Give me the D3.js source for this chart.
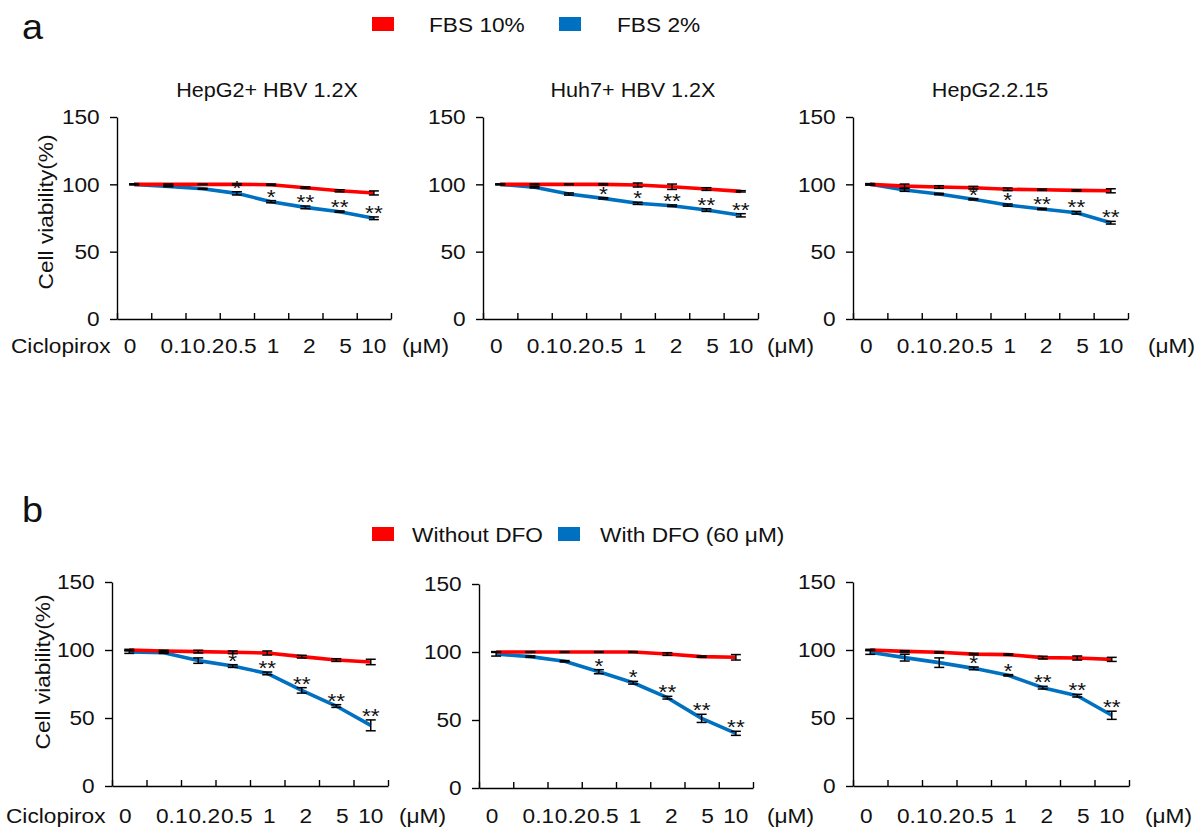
<!DOCTYPE html>
<html>
<head>
<meta charset="utf-8">
<script src="https://cdn.jsdelivr.net/npm/d3@7"></script>
<style>
  body { margin: 0; background: #fff; }
  svg { display: block; font-family: "Liberation Sans", Arial, sans-serif; }
</style>
</head>
<body>
<svg id="fig" width="1204" height="832"></svg>
<script>
// Ciclopirox doses (µM) on the x axis
const doses = ['0', '0.1', '0.2', '0.5', '1', '2', '5', '10'];
const yTicks = [0, 50, 100, 150];

// --- panel a: serum concentration ---
const legendA = ['FBS 10%', 'FBS 2%'];
const titlesA = ['HepG2+ HBV 1.2X', 'Huh7+ HBV 1.2X', 'HepG2.2.15'];

const a1Fbs10   = [100, 100, 100, 100, 99.7, 97.5, 95.2, 93.6];
const a1Fbs10Sd = [0.3, 0.2, 0.2, 0.5, 0.5, 0.6, 0.8, 1.5];
const a1Fbs2    = [100, 98.5, 96.7, 93.3, 87.1, 82.9, 79.7, 74.8];
const a1Fbs2Sd  = [0.3, 0.3, 0.3, 1.2, 0.8, 1, 0.5, 1];
const a1Stars   = ['', '', '', '*', '*', '**', '**', '**'];

const a2Fbs10   = [100, 100, 100, 100, 99.5, 98.2, 96.5, 94.8];
const a2Fbs10Sd = [0.3, 0.3, 0.3, 0.5, 1.5, 2, 1, 0.5];
const a2Fbs2    = [100, 97.8, 92.8, 89.6, 85.9, 84.1, 80.9, 77];
const a2Fbs2Sd  = [0.3, 0.5, 0.8, 0.5, 0.8, 0.6, 1, 1.2];
const a2Stars   = ['', '', '', '*', '*', '**', '**', '**'];

const a3Fbs10   = [100, 98.7, 98, 97.5, 96.3, 96, 95.5, 95.2];
const a3Fbs10Sd = [0.5, 1.5, 1, 1, 1, 0.5, 0.5, 1.5];
const a3Fbs2    = [100, 95.8, 92.8, 88.9, 84.6, 81.7, 78.9, 71.5];
const a3Fbs2Sd  = [0.5, 1, 0.5, 0.5, 0.8, 0.5, 1, 1];
const a3Stars   = ['', '', '', '*', '*', '**', '**', '**'];

// --- panel b: iron chelator DFO ---
const legendB = ['Without DFO', 'With DFO (60 \u03bcM)'];

const b1NoDfo   = [100, 99.3, 98.8, 98.3, 97.8, 95.1, 92.6, 91.2];
const b1NoDfoSd = [0.5, 0.5, 1, 1, 1.5, 1, 1, 2];
const b1Dfo     = [98.5, 98, 92.2, 88.2, 82.8, 70.3, 58.8, 44.6];
const b1DfoSd   = [1, 0.5, 2, 1, 1, 2, 1, 4];
const b1Stars   = ['', '', '', '*', '**', '**', '**', '**'];

const b2NoDfo   = [100, 100, 100, 100, 100, 98.5, 96.6, 96.1];
const b2NoDfoSd = [0.3, 0.3, 0.3, 0.3, 0.3, 1, 0.5, 2];
const b2Dfo     = [98.5, 96.6, 93.2, 85.5, 77.4, 66.4, 51.2, 40.2];
const b2DfoSd   = [1.5, 0.5, 0.5, 1.5, 1, 1, 3, 1.5];
const b2Stars   = ['', '', '', '*', '*', '**', '**', '**'];

const b3NoDfo   = [100, 99, 98.3, 97, 96.6, 94.4, 94.1, 93.1];
const b3NoDfoSd = [0.5, 0.5, 0.5, 0.5, 0.5, 1, 1.5, 1.5];
const b3Dfo     = [98.3, 94.4, 90.7, 86.5, 81.4, 72.3, 66.4, 52];
const b3DfoSd   = [1.5, 2.5, 3.5, 1, 0.5, 1, 1, 3];
const b3Stars   = ['', '', '', '*', '*', '**', '**', '**'];

const RED = '#ff0000';
const BLUE = '#0070c0';
const SX = 1.08;      // the figure's lettering is a bit wider than plain Arial
const FS = 21;
// the original dose row is typeset as a spaced string, not centred per category
const doseNudge = [-4, 8, 6, 4, 2, 4, 6, 0];

const svg = d3.select('#fig');
svg.append('rect').attr('width', 1204).attr('height', 832).attr('fill', '#fff');

function label(x, y, s, opt = {}) {
    const rot = opt.rotate ? ` rotate(${opt.rotate})` : '';
    return svg.append('text')
        .attr('transform', `translate(${x},${y})${rot} scale(${SX},1)`)
        .attr('text-anchor', opt.anchor || 'start')
        .attr('font-size', opt.size || FS)
        .attr('fill', '#111')
        .text(s);
}

function legend(names, y, items) {
    items.forEach((it, i) => {
        svg.append('rect')
            .attr('x', it.box).attr('y', y - 15)
            .attr('width', 22).attr('height', 14)
            .attr('fill', i === 0 ? RED : BLUE);
        label(it.text, y, names[i]);
    });
}

function drawPanel(p) {
    const x = d3.scaleBand().domain(doses).range([p.left, p.right]);
    const cx = d => x(d) + x.bandwidth() / 2;
    const xb = d3.scaleLinear().domain([0, doses.length]).range([p.left, p.right]);
    const y = d3.scaleLinear().domain([0, 150]).range([p.bottom, p.top]);
    const g = svg.append('g');

    // y axis
    const ya = g.append('g')
        .attr('transform', `translate(${p.left},0)`)
        .call(d3.axisLeft(y).tickValues(yTicks).tickSizeInner(7).tickSizeOuter(0).tickPadding(9));
    ya.attr('font-family', null).attr('font-size', null);
    ya.selectAll('text').attr('font-size', FS).attr('fill', '#111')
        .attr('transform', `scale(${SX},1)`);
    ya.selectAll('line, path').attr('stroke', '#000').attr('stroke-width', 1.4);

    // x axis: ticks on category borders, pointing up
    const xa = g.append('g')
        .attr('transform', `translate(0,${p.bottom})`)
        .call(d3.axisBottom(xb).tickValues(d3.range(doses.length + 1))
            .tickSizeInner(-6).tickSizeOuter(0).tickFormat(''));
    xa.selectAll('line, path').attr('stroke', '#000').attr('stroke-width', 1.4);

    // dose labels
    g.selectAll('.dose')
        .data(doses)
        .join('text')
        .attr('class', 'dose')
        .attr('transform', (d, i) => `translate(${cx(d) + doseNudge[i]},${p.labelY}) scale(${SX},1)`)
        .attr('text-anchor', 'middle')
        .attr('font-size', FS)
        .attr('fill', '#111')
        .text(d => d);

    const line = d3.line()
        .x((d, i) => cx(doses[i]))
        .y(d => y(d));

    // lines: treated (blue) under control (red)
    [p.blue, p.red].forEach(s => {
        g.append('path')
            .datum(s.values)
            .attr('d', line)
            .attr('fill', 'none')
            .attr('stroke', s.color)
            .attr('stroke-width', 3.6)
            .attr('stroke-linejoin', 'round');
    });

    // error bars
    [p.blue, p.red].forEach(s => {
        const eb = g.append('g').attr('stroke', '#000').attr('stroke-width', 1.5);
        s.values.forEach((v, i) => {
            const xc = cx(doses[i]);
            const y1 = y(v + s.sd[i]), y0 = y(v - s.sd[i]);
            eb.append('line').attr('x1', xc).attr('x2', xc).attr('y1', y1).attr('y2', y0);
            eb.append('line').attr('x1', xc - 5).attr('x2', xc + 5).attr('y1', y1).attr('y2', y1);
            eb.append('line').attr('x1', xc - 5).attr('x2', xc + 5).attr('y1', y0).attr('y2', y0);
        });
    });

    // significance marks above the treated series
    g.selectAll('.star')
        .data(p.stars)
        .join('text')
        .attr('class', 'star')
        .attr('transform', (d, i) =>
            `translate(${cx(doses[i])},${y(p.blue.values[i] + p.blue.sd[i]) + 3}) scale(${SX},1)`)
        .attr('text-anchor', 'middle')
        .attr('font-size', FS)
        .attr('fill', '#111')
        .text(d => d);

    // unit after the axis
    label(p.unitX, p.labelY, '(\u03bcM)');
}

// ---------- row a ----------
label(22, 39, 'a', { size: 35 });
legend(legendA, 32, [{ box: 372, text: 429 }, { box: 559, text: 617 }]);

const rowA = [
    { left: 117, right: 391, title: 267, unitX: 402,
      red: { values: a1Fbs10, sd: a1Fbs10Sd, color: RED },
      blue: { values: a1Fbs2, sd: a1Fbs2Sd, color: BLUE }, stars: a1Stars },
    { left: 483, right: 758, title: 633, unitX: 767,
      red: { values: a2Fbs10, sd: a2Fbs10Sd, color: RED },
      blue: { values: a2Fbs2, sd: a2Fbs2Sd, color: BLUE }, stars: a2Stars },
    { left: 853, right: 1128, title: 990, unitX: 1148,
      red: { values: a3Fbs10, sd: a3Fbs10Sd, color: RED },
      blue: { values: a3Fbs2, sd: a3Fbs2Sd, color: BLUE }, stars: a3Stars }
];
rowA.forEach((p, i) => {
    Object.assign(p, { top: 117, bottom: 319, labelY: 353 });
    drawPanel(p);
    label(p.title, 97, titlesA[i], { anchor: 'middle', size: 20 });
});
label(11, 353, 'Ciclopirox');
label(53, 212, 'Cell viability(%)', { anchor: 'middle', rotate: -90 });

// ---------- row b ----------
label(22, 522, 'b', { size: 35 });
legend(legendB, 542, [{ box: 372, text: 412 }, { box: 558, text: 600 }]);

const rowB = [
    { left: 112, right: 388, top: 582, bottom: 786, unitX: 399,
      red: { values: b1NoDfo, sd: b1NoDfoSd, color: RED },
      blue: { values: b1Dfo, sd: b1DfoSd, color: BLUE }, stars: b1Stars },
    { left: 479, right: 753, top: 584, bottom: 788, unitX: 767,
      red: { values: b2NoDfo, sd: b2NoDfoSd, color: RED },
      blue: { values: b2Dfo, sd: b2DfoSd, color: BLUE }, stars: b2Stars },
    { left: 853, right: 1129, top: 582, bottom: 786, unitX: 1145,
      red: { values: b3NoDfo, sd: b3NoDfoSd, color: RED },
      blue: { values: b3Dfo, sd: b3DfoSd, color: BLUE }, stars: b3Stars }
];
rowB.forEach(p => {
    p.labelY = 823;
    drawPanel(p);
});
label(6, 823, 'Ciclopirox');
label(50, 672, 'Cell viability(%)', { anchor: 'middle', rotate: -90 });
</script>
</body>
</html>
